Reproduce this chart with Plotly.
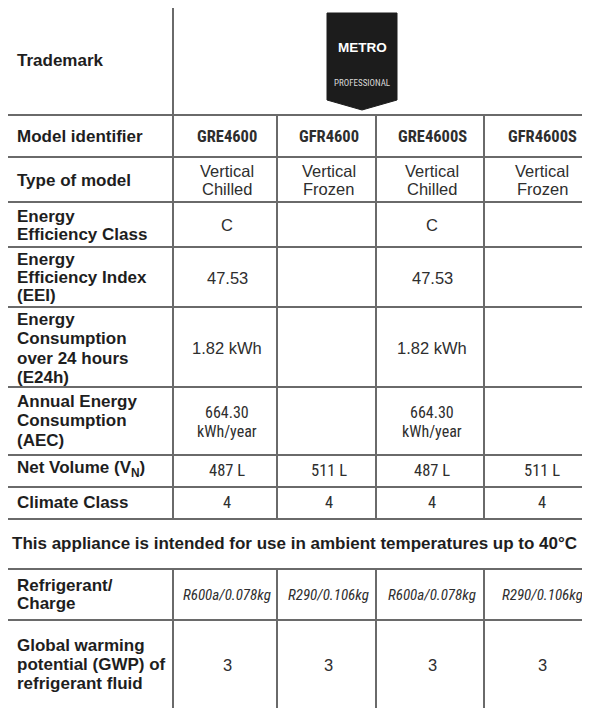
import plotly.graph_objects as go

# ---------------- data ----------------
trademark = "METRO"
trademark_sub = "PROFESSIONAL"
row_labels = [
    "Trademark",
    "Model identifier",
    "Type of model",
    "Energy<br>Efficiency Class",
    "Energy<br>Efficiency Index<br>(EEI)",
    "Energy<br>Consumption<br>over 24 hours<br>(E24h)",
    "Annual Energy<br>Consumption<br>(AEC)",
    "Net Volume (V<sub>N</sub>)",
    "Climate Class",
    "",
    "Refrigerant/<br>Charge",
    "Global warming<br>potential (GWP) of<br>refrigerant fluid",
]
models = ["GRE4600", "GFR4600", "GRE4600S", "GFR4600S"]
model_types = ["Vertical<br>Chilled", "Vertical<br>Frozen", "Vertical<br>Chilled", "Vertical<br>Frozen"]
energy_class = ["C", "", "C", ""]
eei = ["47.53", "", "47.53", ""]
e24h = ["1.82 kWh", "", "1.82 kWh", ""]
aec = ["664.30<br>kWh/year", "", "664.30<br>kWh/year", ""]
net_volume = ["487 L", "511 L", "487 L", "511 L"]
climate_class = ["4", "4", "4", "4"]
notice = "This appliance is intended for use in ambient temperatures up to 40°C"
refrigerant = ["R600a/0.078kg", "R290/0.106kg", "R600a/0.078kg", "R290/0.106kg"]
gwp = ["3", "3", "3", "3"]

# ---------------- layout geometry (pixels) ----------------
W, H = 590, 708
OFF = 8  # page body margin compensation
col_x = [5, 173, 277, 376, 484, 596]
row_y = [6, 115, 157, 202, 247, 307, 387, 455, 487, 519, 569, 620, 716]
label_first = [60, 136, 180, 216, 259, 319, 401, 469, 502, None, 585, 645]
label_step = [0, 0, 0, 18, 18, 19.5, 19.5, 0, 0, 0, 18.5, 19]
value_center = [None, 136, 180, 225, 278, 348, 421.5, 470, 502, None, 595, 665]
value_step = [0, 0, 18.5, 0, 0, 0, 19, 0, 0, 0, 0, 0]

line_col = "#6a6a6a"
LW = 2
REG = "Arial, Liberation Sans, sans-serif"
NARROW = "Roboto Condensed, Arial Narrow, Liberation Sans Narrow, Arial, sans-serif"
lab_col = "#1e1e1e"
val_col = "#2e2e2e"

shapes = []
ann = []

for y in row_y[:-1]:
    shapes.append(dict(type="line", x0=col_x[0], x1=600, y0=y, y1=y,
                       line=dict(color=line_col, width=LW)))
for r in range(len(row_y) - 1):
    y0, y1 = row_y[r], row_y[r + 1]
    if r == 9:
        xs = [col_x[0]]
    elif r == 0:
        xs = [col_x[0], col_x[1]]
    else:
        xs = col_x[:-1]
    for x in xs:
        shapes.append(dict(type="line", x0=x, x1=x, y0=y0, y1=y1,
                           line=dict(color=line_col, width=LW)))

# logo
shapes.append(dict(type="path", path="M 327 13 L 397 13 L 397 100 L 362 110 L 327 100 Z",
                   fillcolor="#1c1c1c", line=dict(color="#1c1c1c", width=1)))
ann.append(dict(x=362, y=47, text="<b>" + trademark + "</b>",
                font=dict(family="Arial Black, Arial, sans-serif", size=13.5, color="white")))
ann.append(dict(x=362, y=83, text=trademark_sub,
                font=dict(family=NARROW, size=9, color="#d8d8d8")))

for r, lab in enumerate(row_labels):
    if not lab:
        continue
    for k, part in enumerate(lab.split("<br>")):
        ann.append(dict(x=15, y=label_first[r] + k * label_step[r], text="<b>" + part + "</b>",
                        xanchor="left", align="left",
                        font=dict(family=REG, size=17, color=lab_col)))

def center(c):
    return (col_x[c] + col_x[c + 1]) / 2

value_rows = [
    (1, models, NARROW, 16.5, True, False),
    (2, model_types, REG, 16.5, False, False),
    (3, energy_class, REG, 16.5, False, False),
    (4, eei, REG, 16.5, False, False),
    (5, e24h, REG, 16.5, False, False),
    (6, aec, NARROW, 16, False, False),
    (7, net_volume, NARROW, 16.5, False, False),
    (8, climate_class, NARROW, 16.5, False, False),
    (10, refrigerant, NARROW, 15, False, True),
    (11, gwp, REG, 16.5, False, False),
]
for r, vals, fam, size, bold, ital in value_rows:
    for i, v in enumerate(vals):
        if not v:
            continue
        parts = v.split("<br>")
        n = len(parts)
        for k, part in enumerate(parts):
            t = part
            if bold:
                t = "<b>" + t + "</b>"
            if ital:
                t = "<i>" + t + "</i>"
            yc = value_center[r] + (k - (n - 1) / 2) * value_step[r]
            ann.append(dict(x=center(i + 1) + 2, y=yc, text=t,
                            font=dict(family=fam, size=size, color=val_col)))

ann.append(dict(x=294, y=543, text="<b>" + notice + "</b>",
                font=dict(family=REG, size=17, color=lab_col)))

for a in ann:
    a.update(xref="x", yref="y", showarrow=False, yanchor="middle")
    a.setdefault("xanchor", "center")
for s in shapes:
    s.update(xref="x", yref="y", layer="above")

fig = go.Figure()
fig.update_layout(
    width=W, height=H,
    margin=dict(l=0, r=0, t=0, b=0),
    paper_bgcolor="white", plot_bgcolor="white",
    xaxis=dict(range=[OFF, W + OFF], visible=False, fixedrange=True),
    yaxis=dict(range=[H + OFF, OFF], visible=False, fixedrange=True),
    shapes=shapes, annotations=ann, showlegend=False,
)
fig.write_html("out.html")
